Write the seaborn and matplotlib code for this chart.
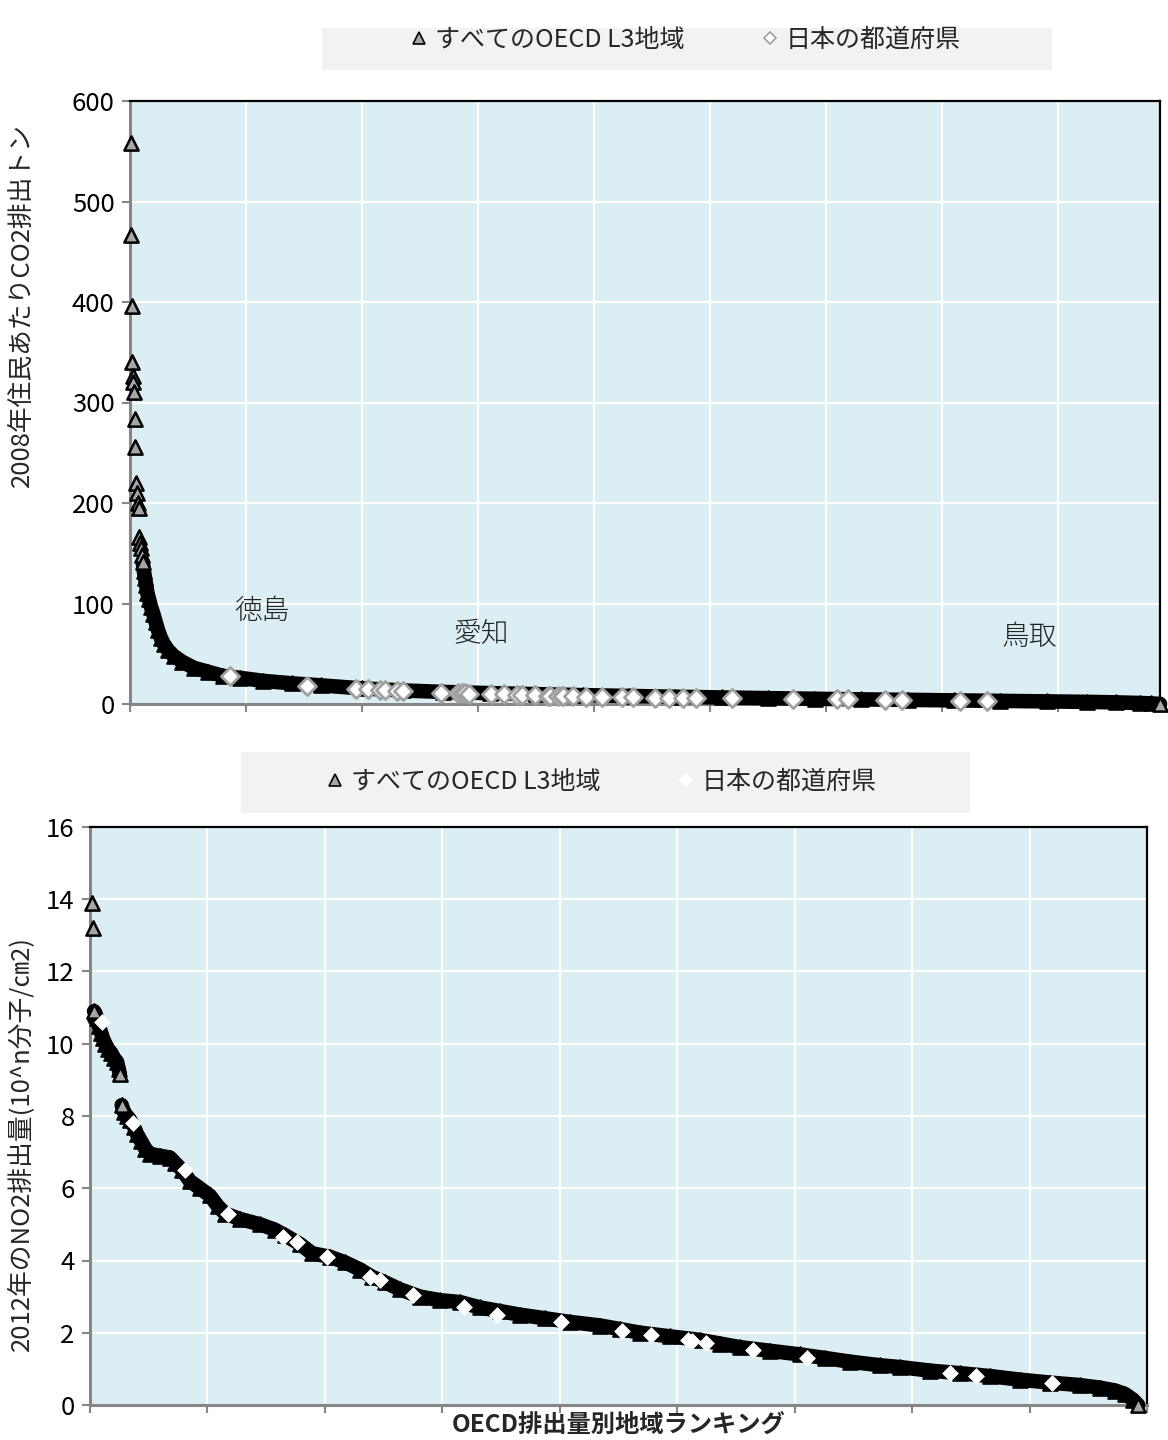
import numpy as np
import pandas as pd
import matplotlib
matplotlib.use("Agg")
import matplotlib.pyplot as plt
import seaborn as sns
from matplotlib.lines import Line2D
from matplotlib.patches import Rectangle

# ---------------- data ----------------
co2_oecd_rank = [1, 2, 3, 4, 5, 6, 7, 8, 9, 11, 12, 13, 15, 16, 18, 19, 21, 22, 24, 26,
                 28, 30, 33, 36, 40, 44, 48, 53, 58, 65, 75, 90, 110, 135, 160, 190, 230,
                 280, 330, 400, 470, 540, 620, 700, 780, 860, 940, 1020, 1100, 1180, 1260,
                 1340, 1420, 1500, 1580, 1650, 1700, 1740, 1760, 1775]
co2_oecd_value = [558, 467, 396, 340, 326, 320, 310, 284, 256, 220, 210, 200, 195, 166, 160,
                  155, 148, 141, 132, 125, 118, 110, 104, 97, 90, 82, 74, 66, 60, 54, 48, 42,
                  36, 32, 28, 26, 23, 20.5, 18.5, 15.5, 13.5, 12, 10.8, 9.8, 8.8, 8, 7.2, 6.5,
                  5.8, 5.2, 4.6, 4.1, 3.6, 3.1, 2.6, 2.1, 1.6, 1.0, 0.6, 0.1]
co2_japan_rank = [172, 305, 389, 410, 431, 439, 460, 470, 536, 565, 572, 577, 584, 622, 644,
                  667, 675, 698, 720, 724, 738, 744, 746, 763, 786, 813, 848, 867, 905, 929,
                  953, 975, 1037, 1143, 1218, 1237, 1301, 1330, 1430, 1477]
co2_japan_value = [28, 18, 15, 14.5, 13.5, 13.5, 13, 12.5, 11, 10.6, 10.6, 10.5, 10.3, 10, 9.5,
                   9, 9, 8.6, 8.3, 8.3, 8, 7.9, 7.9, 7.6, 7.3, 7.2, 7, 6.9, 6.4, 6.3, 6.2, 6.1,
                   5.7, 4.9, 4.7, 4.6, 4.2, 4.0, 3.1, 2.5]
co2_label_text = ["徳島", "愛知", "鳥取"]
co2_label_rank = [227, 605, 1549]
co2_label_value = [93, 70, 67]
co2_yticks = [0, 100, 200, 300, 400, 500, 600]

no2_oecd_rank = [3, 5, 7, 9, 10, 12, 15, 19, 22, 26, 31, 36, 41, 46, 49, 51, 54, 58, 63, 68,
                 75, 80, 87, 94, 102, 119, 136, 145, 157, 170, 187, 204, 218, 230, 255, 290,
                 315, 332, 358, 378, 409, 434, 460, 480, 502, 528, 562, 596, 630, 664, 698,
                 732, 775, 817, 869, 903, 937, 988, 1039, 1073, 1107, 1158, 1209, 1252, 1294,
                 1345, 1379, 1431, 1482, 1533, 1584, 1635, 1686, 1720, 1746, 1763, 1776, 1785]
no2_oecd_value = [13.9, 13.2, 10.9, 10.85, 10.8, 10.7, 10.5, 10.3, 10.15, 10.0, 9.85, 9.75,
                  9.6, 9.5, 9.3, 9.15, 8.3, 8.1, 8.0, 7.9, 7.7, 7.5, 7.3, 7.1, 6.95, 6.9, 6.85,
                  6.7, 6.5, 6.2, 6.0, 5.8, 5.5, 5.3, 5.15, 5.0, 4.85, 4.7, 4.45, 4.2, 4.1, 3.95,
                  3.75, 3.55, 3.4, 3.2, 3.0, 2.9, 2.85, 2.7, 2.6, 2.5, 2.4, 2.3, 2.2, 2.1, 2.0,
                  1.9, 1.8, 1.7, 1.6, 1.5, 1.4, 1.3, 1.2, 1.1, 1.05, 0.95, 0.88, 0.8, 0.7, 0.62,
                  0.55, 0.48, 0.4, 0.3, 0.15, 0.0]
no2_japan_rank = [20, 73, 162, 235, 329, 353, 404, 477, 494, 550, 637, 693, 802, 906, 955,
                  1018, 1025, 1049, 1129, 1221, 1465, 1509, 1638]
no2_japan_value = [10.6, 7.8, 6.5, 5.3, 4.65, 4.5, 4.1, 3.55, 3.45, 3.05, 2.7, 2.5, 2.3, 2.05,
                   1.93, 1.8, 1.77, 1.72, 1.52, 1.3, 0.88, 0.8, 0.6]
no2_yticks = [0, 2, 4, 6, 8, 10, 12, 14, 16]

x_ticks = [0, 200, 400, 600, 800, 1000, 1200, 1400, 1600, 1800]

legend_oecd = "すべてのOECD L3地域"
legend_japan = "日本の都道府県"
co2_ylabel = "2008年住民あたりCO2排出トン"
no2_ylabel = "2012年のNO2排出量(10^n分子/㎝2)"
xlabel = "OECD排出量別地域ランキング"

# ---------------- style ----------------
W, H = 1168, 1440
sns.set_theme(style="white")
plt.rcParams["font.family"] = ["Noto Sans CJK JP", "DejaVu Sans"]

BG = "#daeef3"
GREY = "#a6a6a6"
SPINE_GREY = "#868686"

fig = plt.figure(figsize=(W / 100, H / 100), dpi=100)


def fig_rect(x0, y0, x1, y1):
    return [x0 / W, 1 - y1 / H, (x1 - x0) / W, (y1 - y0) / H]


ax1 = fig.add_axes(fig_rect(130, 101, 1160, 704))
ax2 = fig.add_axes(fig_rect(90, 827, 1147, 1405))


def style_axes(ax, xmax, yticks):
    ax.set_facecolor(BG)
    ax.set_xlim(0, xmax)
    ax.set_ylim(yticks[0], yticks[-1])
    ax.set_yticks(yticks)
    ax.set_xticks([t for t in x_ticks if t <= xmax])
    ax.set_xticklabels([])
    ax.grid(True, color="white", linewidth=1.6)
    ax.set_axisbelow(True)
    for s in ["left", "bottom"]:
        ax.spines[s].set_color(SPINE_GREY)
        ax.spines[s].set_linewidth(2.2)
    for s in ["top", "right"]:
        ax.spines[s].set_color("black")
        ax.spines[s].set_linewidth(1.6)
    ax.tick_params(axis="both", which="both", direction="out", length=6, width=1.5,
                   color=SPINE_GREY, labelsize=18.5, labelcolor="black")
    ax.tick_params(axis="x", bottom=True)
    ax.tick_params(axis="y", left=True, pad=5)


def draw_series(ax, o_rank, o_val, j_rank, j_val, band_start, px_per_unit, split_px,
                jp_edge, jp_size, jp_lw):
    r = np.asarray(o_rank, float)
    v = np.asarray(o_val, float)
    n = len(v)
    segs = []
    start = band_start
    for i in range(band_start, n - 1):
        if abs(v[i + 1] - v[i]) * px_per_unit > split_px:
            segs.append((start, i))
            start = i + 1
    segs.append((start, n - 1))

    grey_idx = list(range(band_start))
    black_idx = []
    for a, b in segs:
        if b > a:
            df = pd.DataFrame({"rank": r[a:b + 1], "value": v[a:b + 1]})
            sns.lineplot(data=df, x="rank", y="value", ax=ax, color="black",
                         linewidth=10.5, sort=False, estimator=None, zorder=3,
                         solid_capstyle="round", solid_joinstyle="round")
            ax.lines[-1].set_clip_on(False)
            black_idx.extend(range(a + 1, b))
            grey_idx.extend([a, b])
        else:
            grey_idx.append(a)

    if black_idx:
        sns.scatterplot(x=r[black_idx], y=v[black_idx], ax=ax, marker="^", s=110,
                        color="black", edgecolor="black", linewidth=1.5, zorder=3.5)
        ax.collections[-1].set_clip_on(False)
    sns.scatterplot(x=r[grey_idx], y=v[grey_idx], ax=ax, marker="^", s=105,
                    color=GREY, edgecolor="black", linewidth=1.8, zorder=4)
    ax.collections[-1].set_clip_on(False)

    sns.scatterplot(x=j_rank, y=j_val, ax=ax, marker="D", s=jp_size, color="white",
                    edgecolor=jp_edge, linewidth=jp_lw, zorder=5)
    ax.collections[-1].set_clip_on(False)


style_axes(ax1, 1775, co2_yticks)
style_axes(ax2, 1800, no2_yticks)

draw_series(ax1, co2_oecd_rank, co2_oecd_value, co2_japan_rank, co2_japan_value,
            band_start=17, px_per_unit=603 / 600, split_px=14,
            jp_edge="#a0a0a0", jp_size=85, jp_lw=2.0)
draw_series(ax2, no2_oecd_rank, no2_oecd_value, no2_japan_rank, no2_japan_value,
            band_start=2, px_per_unit=578 / 16, split_px=14,
            jp_edge="white", jp_size=65, jp_lw=0.5)

for t, xr, yv in zip(co2_label_text, co2_label_rank, co2_label_value):
    ax1.text(xr, yv, t, ha="center", va="center", fontsize=20, color="#222222",
             fontweight="light", zorder=6)

ax1.set_xlabel("")
ax1.set_ylabel(co2_ylabel, fontsize=18.5, va="center")
ax1.yaxis.set_label_coords(-0.105, 0.662)

ax2.set_xlabel(xlabel, fontsize=17.5, fontweight="bold", va="center")
ax2.xaxis.set_label_coords(0.5, -0.034)
ax2.set_ylabel(no2_ylabel, fontsize=18.5, va="center")
ax2.yaxis.set_label_coords(-0.066, 0.453)


# ---------------- legends ----------------
def add_legend(box, cx, cy, jp_edge):
    x0, y0, x1, y1 = box
    fig.add_artist(Rectangle((x0 / W, 1 - y1 / H), (x1 - x0) / W, (y1 - y0) / H,
                             transform=fig.transFigure, facecolor="#f2f2f2",
                             edgecolor="none", zorder=0))
    handles = [
        Line2D([], [], marker="^", ls="none", markerfacecolor=GREY,
               markeredgecolor="black", markersize=8, markeredgewidth=1.2),
        Line2D([], [], marker="D", ls="none", markerfacecolor="white",
               markeredgecolor=jp_edge, markersize=6, markeredgewidth=1.2),
    ]
    fig.legend(handles, [legend_oecd, legend_japan], loc="center",
               bbox_to_anchor=(cx / W, 1 - cy / H), bbox_transform=fig.transFigure,
               ncol=2, frameon=False, fontsize=18, handlelength=0.8,
               handletextpad=0.25, columnspacing=3.0, borderpad=0)


add_legend((322, 28, 1052, 70), 685, 40, "#a0a0a0")
add_legend((241, 752, 970, 813), 601, 782, "white")

fig.savefig("out.png", dpi=100)
